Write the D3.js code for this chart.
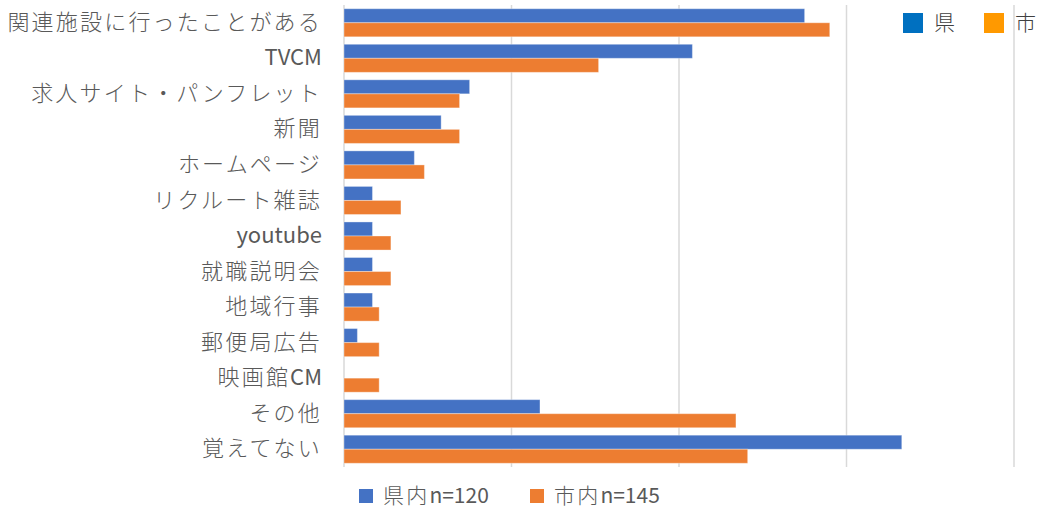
<!DOCTYPE html>
<html>
<head>
<meta charset="utf-8">
<script src="https://cdn.jsdelivr.net/npm/d3@7/dist/d3.min.js"></script>
<style>
  body { margin: 0; background: #fff; }
  svg text { font-family: "Noto Sans CJK JP", "Noto Sans", sans-serif; }
</style>
</head>
<body>
<div id="chart"></div>
<script>
// 認知経路（%）
var categories = ["関連施設に行ったことがある", "TVCM", "求人サイト・パンフレット", "新聞",
    "ホームページ", "リクルート雑誌", "youtube", "就職説明会", "地域行事",
    "郵便局広告", "映画館CM", "その他", "覚えてない"];
var seriesNames = ["県内n=120", "市内n=145"];
var kennai = [27.5, 20.8, 7.5, 5.8, 4.2, 1.7, 1.7, 1.7, 1.7, 0.8, 0, 11.7, 33.3];
var shinai = [29.0, 15.2, 6.9, 6.9, 4.8, 3.4, 2.8, 2.8, 2.1, 2.1, 2.1, 23.4, 24.1];
var gridTicks = [0, 10, 20, 30, 40];
var topLegend = ["県", "市"];

var width = 1041, height = 509,
    mLeft = 344, mRight = 1014, mTop = 5, mBottom = 467,
    colors = ["#4472C4", "#ED7D31"],
    topColors = ["#0070C0", "#FF9900"];

var svg = d3.select("#chart").append("svg")
    .attr("width", width)
    .attr("height", height);

var x = d3.scaleLinear().domain([0, 40]).range([mLeft, mRight]);
var y = d3.scaleBand().domain(categories).range([mTop, mBottom])
    .paddingInner(0.21).paddingOuter(0.105);
var ys = d3.scaleBand().domain([0, 1]).range([0, y.bandwidth()]);

// 和文だけ字間を広げる（Excel の游ゴシック風）
function spacedText(sel) {
    sel.each(function() {
        var t = d3.select(this),
            s = t.text(),
            parts = s.split(/([A-Za-z0-9=]+)/).filter(function(p) { return p.length; });
        t.text(null);
        parts.forEach(function(p) {
            var latin = /^[A-Za-z0-9=]+$/.test(p);
            t.append("tspan")
                .attr("letter-spacing", latin ? 0 : 2.2)
                .attr("font-weight", latin ? 400 : 300)
                .text(p);
        });
    });
}

// grid lines
svg.append("g").selectAll("line")
    .data(gridTicks)
    .enter().append("line")
    .attr("x1", function(d) { return x(d); })
    .attr("x2", function(d) { return x(d); })
    .attr("y1", mTop)
    .attr("y2", mBottom)
    .attr("stroke", "#d9d9d9")
    .attr("stroke-width", 1.5);

// bars
var rows = categories.map(function(c, i) {
    return { cat: c, vals: [kennai[i], shinai[i]] };
});

var groups = svg.append("g").selectAll("g")
    .data(rows)
    .enter().append("g")
    .attr("transform", function(d) { return "translate(0," + y(d.cat) + ")"; });

groups.selectAll("rect")
    .data(function(d) { return d.vals.map(function(v, k) { return { v: v, k: k }; }); })
    .enter().append("rect")
    .filter(function(d) { return d.v > 0; })
    .attr("x", x(0))
    .attr("y", function(d) { return ys(d.k); })
    .attr("width", function(d) { return x(d.v) - x(0); })
    .attr("height", ys.bandwidth())
    .attr("fill", function(d) { return colors[d.k]; })
    .attr("stroke", "#fff")
    .attr("stroke-opacity", 0.35)
    .attr("stroke-width", 1);

// category labels
var yAxis = d3.axisLeft(y).tickSize(0).tickPadding(22);
svg.append("g")
    .attr("transform", "translate(" + mLeft + ",0)")
    .call(yAxis)
    .call(function(g) { g.select(".domain").remove(); })
    .selectAll("text")
    .attr("font-size", 22)
    .attr("fill", "#595959")
    .style("font-family", "\"Noto Sans CJK JP\", sans-serif")
    .call(spacedText);

// bottom legend
var legendX = [359, 530];
var leg = svg.append("g").selectAll("g")
    .data(seriesNames)
    .enter().append("g")
    .attr("transform", function(d, i) { return "translate(" + legendX[i] + ",489)"; });
leg.append("rect")
    .attr("width", 14).attr("height", 14)
    .attr("fill", function(d, i) { return colors[i]; });
leg.append("text")
    .attr("x", 24).attr("y", 7)
    .attr("dy", "0.35em")
    .attr("font-size", 21)
    .attr("fill", "#595959")
    .text(function(d) { return d; })
    .call(spacedText);

// top-right legend
var tlX = [903, 984];
var tl = svg.append("g").selectAll("g")
    .data(topLegend)
    .enter().append("g")
    .attr("transform", function(d, i) { return "translate(" + tlX[i] + ",13)"; });
tl.append("rect")
    .attr("width", 20).attr("height", 20)
    .attr("fill", function(d, i) { return topColors[i]; });
tl.append("text")
    .attr("x", 31).attr("y", 10)
    .attr("dy", "0.35em")
    .attr("font-size", 21)
    .attr("font-weight", 300)
    .attr("fill", "#404040")
    .text(function(d) { return d; });
</script>
</body>
</html>
